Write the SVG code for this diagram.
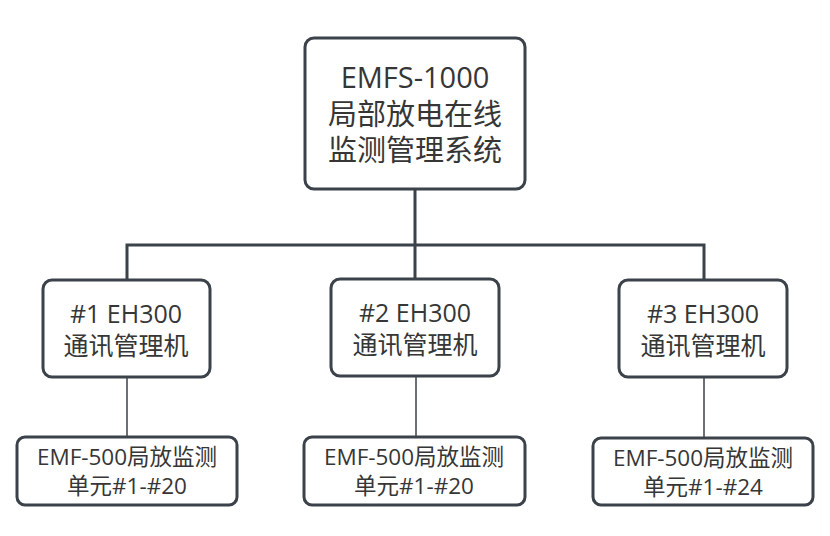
<svg xmlns="http://www.w3.org/2000/svg" width="830" height="536" viewBox="0 0 830 536">
<style>
.box{fill:#ffffff;stroke:#3b4249;stroke-width:3}
.main{fill:none;stroke:#3b4249;stroke-width:3}
.thin{fill:none;stroke:#3b4249;stroke-width:1.5}
text{font-family:"Open Sans","Noto Sans CJK SC","Noto Sans",sans-serif;fill:#363636;text-anchor:middle}
.t1{font-size:29px}
.t2{font-size:25px}
.t3{font-size:22.5px}
</style>
<rect width="830" height="536" fill="#ffffff"/>
<g id="connectors">
<path class="main" d="M415 189 V245 M127 280 V245 H704 V280 M415 245 V279"/>
<path class="thin" d="M127 377 V437 M416 375 V437 M704 377 V438"/>
</g>
<g id="root">
<rect class="box" x="305" y="38" width="220" height="151" rx="9"/>
<text class="t1" x="415" y="88">EMFS-1000</text>
<text class="t1" x="415" y="125">局部放电在线</text>
<text class="t1" x="415" y="161">监测管理系统</text>
</g>
<g id="eh1">
<rect class="box" x="43" y="280" width="167" height="97" rx="9"/>
<text class="t2" x="126" y="323">#1 EH300</text>
<text class="t2" x="126" y="355">通讯管理机</text>
</g>
<g id="eh2">
<rect class="box" x="331" y="279" width="168" height="97" rx="9"/>
<text class="t2" x="415" y="322">#2 EH300</text>
<text class="t2" x="415" y="354">通讯管理机</text>
</g>
<g id="eh3">
<rect class="box" x="619" y="280" width="168" height="97" rx="9"/>
<text class="t2" x="703" y="323">#3 EH300</text>
<text class="t2" x="703" y="355">通讯管理机</text>
</g>
<g id="emf1">
<rect class="box" x="17" y="437" width="220" height="68" rx="8"/>
<text class="t3" x="127" y="465">EMF-500局放监测</text>
<text class="t3" x="127" y="494">单元#1-#20</text>
</g>
<g id="emf2">
<rect class="box" x="304" y="437" width="221" height="68" rx="8"/>
<text class="t3" x="414" y="465">EMF-500局放监测</text>
<text class="t3" x="414" y="494">单元#1-#20</text>
</g>
<g id="emf3">
<rect class="box" x="593" y="438" width="220" height="67" rx="8"/>
<text class="t3" x="703" y="466">EMF-500局放监测</text>
<text class="t3" x="703" y="495">单元#1-#24</text>
</g>
</svg>
